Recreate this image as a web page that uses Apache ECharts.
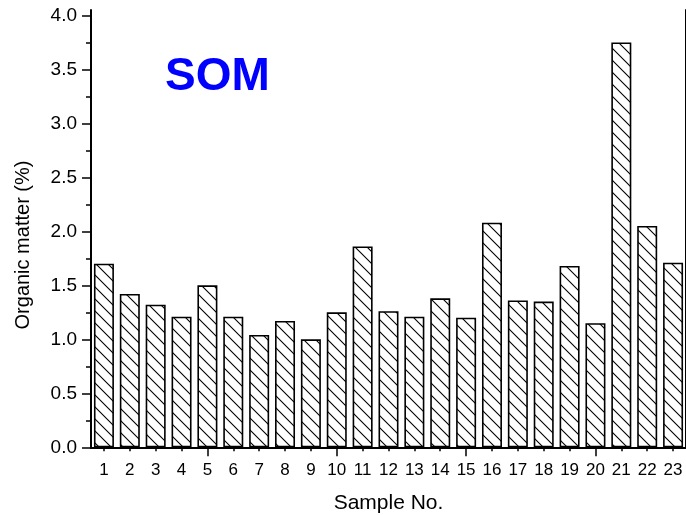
<!DOCTYPE html>
<html>
<head>
<meta charset="utf-8">
<script src="https://cdn.jsdelivr.net/npm/echarts@6/dist/echarts.min.js"></script>
<style>
  html, body { margin: 0; padding: 0; background: #fff; }
  #chart { width: 686px; height: 515px; }
</style>
</head>
<body>
<div id="chart"></div>
<script>
// Soil organic matter per sample
const samples = ['1', '2', '3', '4', '5', '6', '7', '8', '9', '10', '11', '12',
  '13', '14', '15', '16', '17', '18', '19', '20', '21', '22', '23'];
const organicMatter = [1.70, 1.42, 1.32, 1.21, 1.50, 1.21, 1.04, 1.17, 1.00, 1.25, 1.86, 1.26,
  1.21, 1.38, 1.20, 2.08, 1.36, 1.35, 1.68, 1.15, 3.75, 2.05, 1.71];
const yTickValues = [0, 0.5, 1.0, 1.5, 2.0, 2.5, 3.0, 3.5, 4.0];
const yMinorTickValues = [0.25, 0.75, 1.25, 1.75, 2.25, 2.75, 3.25, 3.75];
const chartTitle = 'SOM';
const xName = 'Sample No.';
const yName = 'Organic matter (%)';

const FONT = '"Liberation Sans", Arial, Helvetica, sans-serif';

// Back-slash hatch fill used for the bars
function hatchPattern() {
  const s = 12;
  const c = document.createElement('canvas');
  c.width = s; c.height = s;
  const g = c.getContext('2d');
  g.fillStyle = '#fff';
  g.fillRect(0, 0, s, s);
  g.strokeStyle = '#000';
  g.lineWidth = 1.1;
  g.beginPath();
  g.moveTo(-1, -1); g.lineTo(s + 1, s + 1);
  g.moveTo(s - 1, -1); g.lineTo(s + 1, 1);
  g.moveTo(-1, s - 1); g.lineTo(1, s + 1);
  g.stroke();
  return c;
}

const chart = echarts.init(document.getElementById('chart'), null, { renderer: 'canvas' });

const frameLine = { show: true, lineStyle: { color: '#000', width: 2 } };

chart.setOption({
  animation: false,
  backgroundColor: '#fff',
  textStyle: { fontFamily: FONT },
  grid: { left: 91, right: 0, top: 10, bottom: 67.7, outerBoundsMode: 'none', containLabel: false },
  xAxis: [
    {
      type: 'category', data: samples, position: 'bottom',
      axisLine: frameLine,
      axisTick: { show: true, alignWithLabel: true, interval: 0, length: 4, lineStyle: { color: '#000', width: 1.5 } },
      axisLabel: { interval: 0, color: '#000', fontSize: 17, fontFamily: FONT, margin: 15 },
      name: xName, nameLocation: 'middle', nameGap: 45,
      nameTextStyle: { color: '#000', fontSize: 21, fontFamily: FONT },
      splitLine: { show: false }
    },
    {
      type: 'category', data: samples, position: 'bottom',
      axisLine: { show: false },
      axisTick: { show: true, alignWithLabel: true, interval: (i) => (i + 1) % 5 === 0, length: 9, lineStyle: { color: '#000', width: 1.5 } },
      axisLabel: { show: false },
      splitLine: { show: false }
    },
    {
      type: 'category', data: samples, position: 'top',
      axisLine: frameLine, axisTick: { show: false }, axisLabel: { show: false },
      splitLine: { show: false }
    }
  ],
  yAxis: [
    {
      type: 'value', min: 0, max: 4.05, interval: 0.5, position: 'left',
      axisLine: frameLine,
      axisTick: { show: true, customValues: yTickValues, length: 9, lineStyle: { color: '#000', width: 1.5 } },
      axisLabel: { customValues: yTickValues, formatter: (v) => Number(v).toFixed(1), color: '#000', fontSize: 19, fontFamily: FONT, margin: 14 },
      splitLine: { show: false }
    },
    {
      type: 'value', min: 0, max: 4.05, interval: 0.5, position: 'left',
      axisLine: { show: false },
      axisTick: { show: true, customValues: yMinorTickValues, length: 5, lineStyle: { color: '#000', width: 1.5 } },
      axisLabel: { show: false },
      splitLine: { show: false }
    },
    {
      type: 'value', min: 0, max: 4.05, position: 'right',
      axisLine: frameLine, axisTick: { show: false }, axisLabel: { show: false },
      splitLine: { show: false }
    }
  ],
  graphic: [
    {
      type: 'text', x: 165, y: 77,
      style: { text: chartTitle, fill: '#0000ff', font: 'bold 46px ' + FONT, verticalAlign: 'middle', align: 'left' }
    },
    {
      type: 'text', x: 23, y: 245, rotation: Math.PI / 2,
      style: { text: yName, fill: '#000', font: '20px ' + FONT, align: 'center', verticalAlign: 'middle' }
    }
  ],
  series: [
    {
      type: 'bar', xAxisIndex: 0, yAxisIndex: 0,
      data: organicMatter,
      barWidth: 20,
      itemStyle: { color: { image: hatchPattern(), repeat: 'repeat' }, borderColor: '#000', borderWidth: 1.6 }
    }
  ]
});
</script>
</body>
</html>
